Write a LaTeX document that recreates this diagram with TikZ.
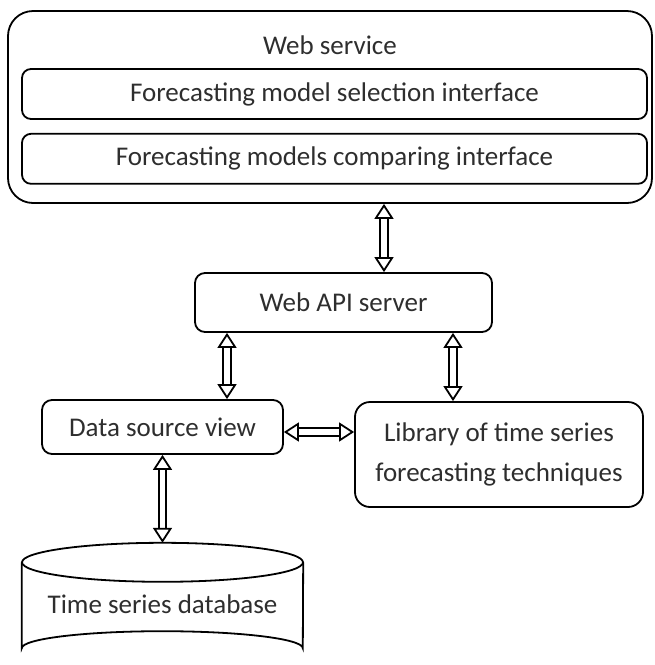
\documentclass[tikz,border=0pt]{standalone}
\usepackage{fontspec}
\setmainfont{Carlito}
\usetikzlibrary{arrows.meta, positioning, calc}
\tikzset{
	block/.style = {rectangle, draw, line width=1.8pt, rounded corners=9pt, inner sep=0pt, align=center},
	biarrow/.style = {double, double distance=5.5pt, line width=1.8pt, {Triangle[length=15pt, width=19pt, fill=white, line width=1.8pt]}-{Triangle[length=15pt, width=19pt, fill=white, line width=1.8pt]}}
}

\begin{document}
\begin{tikzpicture}[x=1pt, y=-1pt, font=\fontsize{27}{40}\selectfont, text=black!82]
	\useasboundingbox (0,0) rectangle (655,665);

	% web service with its two interfaces
	\node [block, rounded corners=25pt, minimum width=644pt, minimum height=192pt] (web) at (330,107) {};
	\node (webtitle) at (330,45) {Web service};
	\node [block, minimum width=625pt, minimum height=50pt] (select) at (334.5,94) {Forecasting model selection interface};
	\node [block, minimum width=625pt, minimum height=50pt, below=13pt of select] (compare) {Forecasting models comparing interface};

	\node [block, rounded corners=10pt, minimum width=297pt, minimum height=59pt] (api) at (343.5,302.5) {Web API server};
	\node [block, rounded corners=10pt, minimum width=241pt, minimum height=54pt] (dsv) at (162.5,427) {Data source view};
	\node [block, rounded corners=15pt, minimum width=288pt, minimum height=105pt] (lib) at (499,454.5) {Library of time series\\forecasting techniques};

	% database drum
	\node [minimum width=281pt, minimum height=122pt, inner sep=0pt] (db) at (162.5,604) {Time series database};
	\draw [line width=1.8pt] ($(db.north)+(0,19.5)$) ellipse [x radius=140.5pt, y radius=19.5pt];
	\draw [line width=1.8pt] ($(db.north west)+(0,19.5)$) -- ($(db.south west)+(0,-17)$)
		arc [start angle=180, end angle=360, x radius=140.5pt, y radius=-17pt]
		-- ($(db.north east)+(0,19.5)$);

	\draw[biarrow] ([xshift=40.5pt]api.north) -- ([xshift=40.5pt]api.north |- web.south);
	\draw[biarrow] ([xshift=64.5pt]dsv.north) -- ([xshift=64.5pt]dsv.north |- api.south);
	\draw[biarrow] ([xshift=-46pt]lib.north) -- ([xshift=-46pt]lib.north |- api.south);
	\draw[biarrow] ([yshift=-5pt]dsv.east) -- ([yshift=-5pt]dsv.east -| lib.west);
	\draw[biarrow] (dsv.south) -- (db.north);
\end{tikzpicture}
\end{document}
